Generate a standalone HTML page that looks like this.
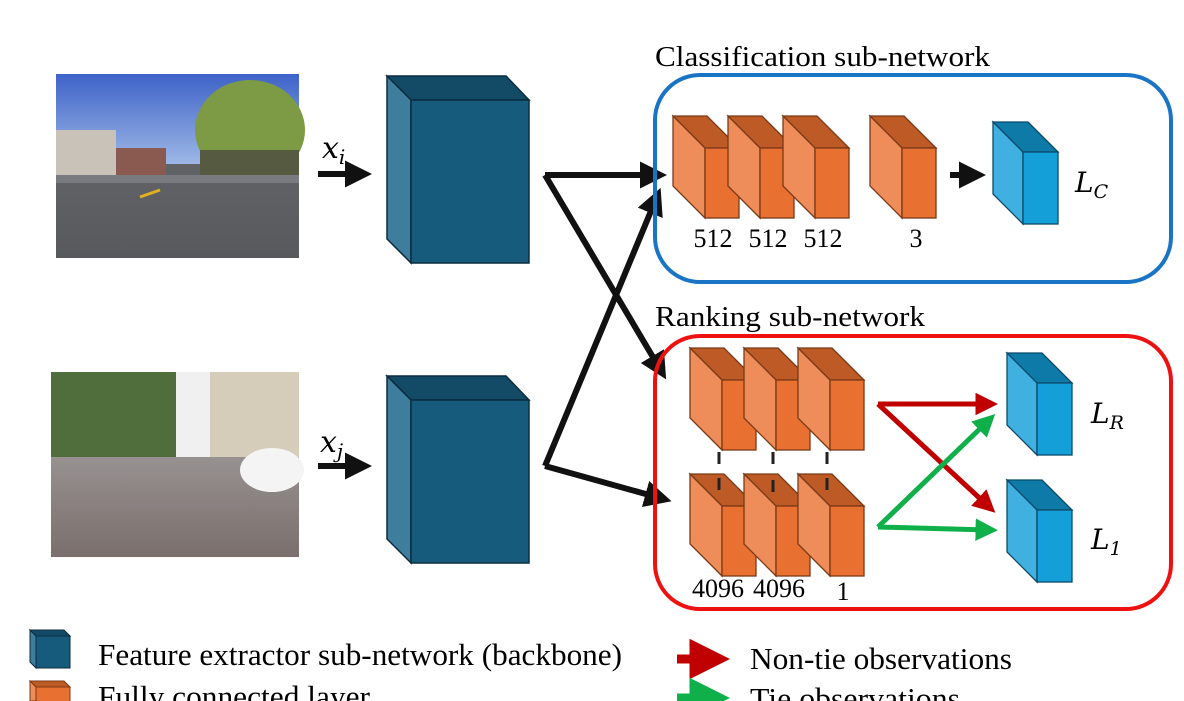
<!DOCTYPE html>
<html><head><meta charset="utf-8"><style>html,body{margin:0;padding:0;background:#fff;}svg{display:block;}</style></head>
<body>
<svg width="1184" height="701" viewBox="0 0 1184 701" xmlns="http://www.w3.org/2000/svg" font-family="'Liberation Serif', serif">
<defs>
<linearGradient id="sky1" x1="0" y1="0" x2="0" y2="1"><stop offset="0" stop-color="#3e63c8"/><stop offset="1" stop-color="#9db7e6"/></linearGradient>
<linearGradient id="road1" x1="0" y1="0" x2="0" y2="1"><stop offset="0" stop-color="#6b6c70"/><stop offset="1" stop-color="#58595c"/></linearGradient>
<linearGradient id="cob" x1="0" y1="0" x2="0" y2="1"><stop offset="0" stop-color="#b0aeb0"/><stop offset="1" stop-color="#7a6f6c"/></linearGradient>
<g id="oc"><polygon points="0,0 34,0 66,32 32,32" fill="#bd5a26" stroke="#7a3a17" stroke-width="1.3"/><polygon points="0,0 32,32 32,102 0,70" fill="#ee8c5a" stroke="#7a3a17" stroke-width="1.3"/><rect x="32" y="32" width="34" height="70" fill="#e87030" stroke="#7a3a17" stroke-width="1.3"/></g>
<g id="bc"><polygon points="0,0 35,0 65,30 30,30" fill="#0e7aa8" stroke="#0b4a6a" stroke-width="1.3"/><polygon points="0,0 30,30 30,102 0,72" fill="#40b0e0" stroke="#0b4a6a" stroke-width="1.3"/><rect x="30" y="30" width="35" height="72" fill="#149fd8" stroke="#0b4a6a" stroke-width="1.3"/></g>
<g id="bb"><polygon points="0,0 119,0 142,24 24,24" fill="#134b66" stroke="#0b2c3e" stroke-width="1.5"/><polygon points="0,0 24,24 24,187 0,163" fill="#3f7d9c" stroke="#0b2c3e" stroke-width="1.5"/><rect x="24" y="24" width="118" height="163" fill="#165a7c" stroke="#0b2c3e" stroke-width="1.5"/></g>
<marker id="ak" markerWidth="4.5" markerHeight="4.5" refX="2.5" refY="2.25" orient="auto" markerUnits="strokeWidth"><path d="M0,0 L4.5,2.25 L0,4.5 z" fill="#111"/></marker>
<marker id="ar" markerWidth="4.5" markerHeight="4.5" refX="2.5" refY="2.25" orient="auto" markerUnits="strokeWidth"><path d="M0,0 L4.5,2.25 L0,4.5 z" fill="#c00000"/></marker>
<marker id="ag" markerWidth="4.5" markerHeight="4.5" refX="2.5" refY="2.25" orient="auto" markerUnits="strokeWidth"><path d="M0,0 L4.5,2.25 L0,4.5 z" fill="#0fb04a"/></marker>
</defs>

<!-- photo 1 -->
<rect x="56" y="74" width="243" height="184" fill="url(#road1)"/>
<rect x="56" y="74" width="243" height="90" fill="url(#sky1)"/>
<rect x="56" y="130" width="60" height="45" fill="#c9c2b8"/>
<rect x="116" y="148" width="50" height="28" fill="#8a5a50"/>
<ellipse cx="250" cy="130" rx="55" ry="50" fill="#7d9a45"/>
<rect x="200" y="150" width="99" height="30" fill="#555a40"/>
<rect x="56" y="175" width="243" height="8" fill="#7a7b80"/>
<line x1="140" y1="197" x2="160" y2="190" stroke="#e0b020" stroke-width="3"/>
<!-- photo 2 -->
<rect x="51" y="372" width="248" height="185" fill="url(#cob)"/>
<rect x="51" y="372" width="248" height="85" fill="#f0f0f0"/>
<rect x="51" y="372" width="125" height="85" fill="#4f6e3c"/>
<rect x="210" y="372" width="89" height="85" fill="#d6ccba"/>
<ellipse cx="272" cy="470" rx="32" ry="22" fill="#f4f4f4"/>

<!-- xi xj -->
<text x="322" y="158" font-size="30" font-style="italic" font-family="'DejaVu Serif', serif">x<tspan font-size="20" dy="6">i</tspan></text>
<text x="320" y="452" font-size="30" font-style="italic" font-family="'DejaVu Serif', serif">x<tspan font-size="20" dy="6">j</tspan></text>
<line x1="318" y1="174" x2="360" y2="174" stroke="#111" stroke-width="6" marker-end="url(#ak)"/>
<line x1="318" y1="466" x2="360" y2="466" stroke="#111" stroke-width="6" marker-end="url(#ak)"/>

<use href="#bb" x="387" y="76"/>
<use href="#bb" x="387" y="376"/>

<g stroke="#111" stroke-width="6" fill="none">
<polyline points="545,175 655,175" marker-end="url(#ak)"/>
<polyline points="545,175 660,369" marker-end="url(#ak)"/>
<polyline points="545,466 656,199" marker-end="url(#ak)"/>
<polyline points="545,466 660,498" marker-end="url(#ak)"/>
</g>

<text x="655" y="66" font-size="28" textLength="335" lengthAdjust="spacingAndGlyphs">Classification sub-network</text>
<rect x="655" y="75" width="516" height="207" rx="45" fill="none" stroke="#1a74c6" stroke-width="4"/>
<text x="655" y="326" font-size="28" textLength="270" lengthAdjust="spacingAndGlyphs">Ranking sub-network</text>
<rect x="655" y="336" width="516" height="273" rx="45" fill="none" stroke="#ee1111" stroke-width="4"/>

<use href="#oc" x="673" y="116"/><use href="#oc" x="728" y="116"/><use href="#oc" x="783" y="116"/><use href="#oc" x="870" y="116"/>
<g font-size="26" text-anchor="middle"><text x="713" y="247">512</text><text x="768" y="247">512</text><text x="823" y="247">512</text><text x="916" y="247">3</text></g>
<line x1="950" y1="175" x2="974" y2="175" stroke="#111" stroke-width="6" marker-end="url(#ak)"/>
<use href="#bc" x="993" y="122"/>
<text x="1075" y="192" font-size="28" font-style="italic" font-family="'DejaVu Serif', serif">L<tspan font-size="19" dy="6">C</tspan></text>

<use href="#oc" x="690" y="348"/><use href="#oc" x="744" y="348"/><use href="#oc" x="798" y="348"/>
<use href="#oc" x="690" y="474"/><use href="#oc" x="744" y="474"/><use href="#oc" x="798" y="474"/>
<g stroke="#222" stroke-width="3"><line x1="719" y1="452" x2="719" y2="464"/><line x1="773" y1="452" x2="773" y2="464"/><line x1="827" y1="452" x2="827" y2="464"/>
<line x1="719" y1="478" x2="719" y2="490"/><line x1="773" y1="480" x2="773" y2="492"/><line x1="827" y1="478" x2="827" y2="490"/></g>
<g font-size="26" text-anchor="middle"><text x="718" y="597">4096</text><text x="779" y="597">4096</text><text x="843" y="600">1</text></g>

<g stroke-width="5" fill="none">
<polyline points="878,404 988,404" stroke="#c00000" marker-end="url(#ar)"/>
<polyline points="878,404 988,506" stroke="#c00000" marker-end="url(#ar)"/>
<polyline points="878,527 988,421" stroke="#0fb04a" marker-end="url(#ag)"/>
<polyline points="878,527 988,530" stroke="#0fb04a" marker-end="url(#ag)"/>
</g>
<use href="#bc" x="1007" y="353"/>
<use href="#bc" x="1007" y="480"/>
<text x="1091" y="423" font-size="28" font-style="italic" font-family="'DejaVu Serif', serif">L<tspan font-size="19" dy="6">R</tspan></text>
<text x="1091" y="549" font-size="28" font-style="italic" font-family="'DejaVu Serif', serif">L<tspan font-size="19" dy="6">1</tspan></text>

<!-- legend -->
<polygon points="30,630 36,636 36,668 30,662" fill="#3f7d9c" stroke="#0b2c3e"/><polygon points="30,630 64,630 70,636 36,636" fill="#134b66" stroke="#0b2c3e"/><rect x="36" y="636" width="34" height="32" fill="#165a7c" stroke="#0b2c3e"/>
<text x="98" y="665" font-size="31" textLength="524" lengthAdjust="spacingAndGlyphs">Feature extractor sub-network (backbone)</text>
<polygon points="30,681 36,687 36,701 30,701" fill="#ee8c5a" stroke="#7a3a17"/><polygon points="30,681 64,681 70,687 36,687" fill="#bd5a26" stroke="#7a3a17"/><rect x="36" y="687" width="34" height="20" fill="#e87030" stroke="#7a3a17"/>
<text x="98" y="707" font-size="31" textLength="272" lengthAdjust="spacingAndGlyphs">Fully connected layer</text>
<line x1="677" y1="659" x2="712" y2="659" stroke="#c00000" stroke-width="9" marker-end="url(#ar)"/>
<text x="750" y="669" font-size="31" textLength="262" lengthAdjust="spacingAndGlyphs">Non-tie observations</text>
<line x1="677" y1="698" x2="712" y2="698" stroke="#0fb04a" stroke-width="9" marker-end="url(#ag)"/>
<text x="750" y="709" font-size="31" textLength="210" lengthAdjust="spacingAndGlyphs">Tie observations</text>
</svg>
</body></html>
